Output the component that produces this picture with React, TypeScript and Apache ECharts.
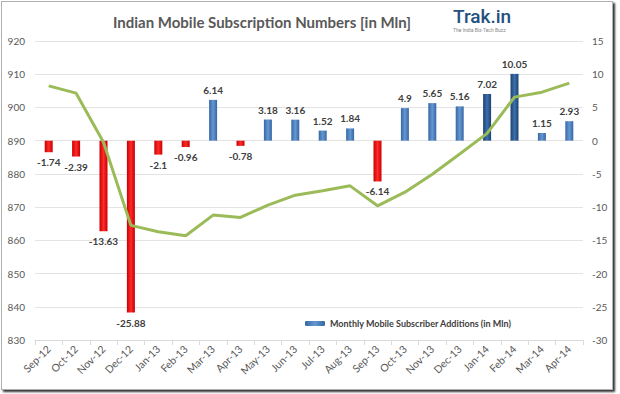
import React, { useEffect, useRef } from "react";
import * as echarts from "echarts";

const months = [
  "Sep-12", "Oct-12", "Nov-12", "Dec-12", "Jan-13", "Feb-13", "Mar-13", "Apr-13",
  "May-13", "Jun-13", "Jul-13", "Aug-13", "Sep-13", "Oct-13", "Nov-13", "Dec-13",
  "Jan-14", "Feb-14", "Mar-14", "Apr-14",
];
const monthlyAdditions = [
  -1.74, -2.39, -13.63, -25.88, -2.1, -0.96, 6.14, -0.78, 3.18, 3.16, 1.52, 1.84,
  -6.14, 4.9, 5.65, 5.16, 7.02, 10.05, 1.15, 2.93,
];
const totalSubscribers = [
  906.5, 904.3, 889.5, 864.5, 862.6, 861.4, 867.6, 866.9, 870.6, 873.6, 874.9, 876.4,
  870.4, 874.5, 879.9, 886.0, 892.2, 903.1, 904.6, 907.3,
];
const darkMonths = ["Jan-14", "Feb-14"];
const seriesName = "Monthly Mobile Subscriber Additions (in Mln)";
const chartTitle = "Indian Mobile Subscription Numbers [in Mln]";

const grad = (edge: string, mid: string) =>
  new echarts.graphic.LinearGradient(0, 0, 1, 0, [
    { offset: 0, color: edge },
    { offset: 0.5, color: mid },
    { offset: 1, color: edge },
  ]);

export default function App() {
  const ref = useRef<HTMLDivElement>(null);
  useEffect(() => {
    document.body.style.margin = "0";
    if (!ref.current) return;
    const chart = echarts.init(ref.current, null, { renderer: "svg" });
    const font = "Lato, 'Open Sans', sans-serif";
    const barData = monthlyAdditions.map((v, i) => ({
      value: v,
      itemStyle: {
        color:
          v < 0
            ? grad("#c80000", "#ff2a2a")
            : darkMonths.includes(months[i])
            ? grad("#1d426f", "#3b6fae")
            : grad("#3667a3", "#6597d3"),
      },
    }));
    chart.setOption({
      animation: false,
      textStyle: { fontFamily: font },
      title: {
        text: chartTitle,
        left: 257,
        top: 9,
        textAlign: "center",
        textStyle: { fontSize: 15, fontWeight: "bold", color: "#595959", fontFamily: font },
      },
      graphic: [
        {
          type: "text",
          left: 453,
          top: 7,
          style: { text: "Trak.in", fontSize: 19, fontWeight: 500, fill: "#24507f", fontFamily: "Roboto, sans-serif" },
        },
        {
          type: "text",
          left: 453,
          top: 27,
          style: { text: "The India Biz-Tech Buzz", fontSize: 5, fill: "#888", fontFamily: "Roboto, sans-serif" },
        },
      ],
      legend: {
        data: [seriesName],
        left: 300,
        top: 314,
        itemWidth: 20,
        itemHeight: 5,
        itemGap: 4,
        textStyle: { fontSize: 9, fontWeight: "bold", color: "#404040", fontFamily: font },
      },
      grid: { left: 35, right: 37, top: 41, bottom: 54 },
      xAxis: {
        type: "category",
        data: months,
        boundaryGap: true,
        axisLine: { show: true, onZero: false, lineStyle: { color: "#d9d9d9" } },
        axisTick: { show: true, length: 5, lineStyle: { color: "#d9d9d9" } },
        axisLabel: { rotate: 45, fontSize: 10.5, color: "#595959", margin: 7, interval: 0, fontFamily: font },
      },
      yAxis: [
        {
          type: "value",
          min: 830,
          max: 920,
          interval: 10,
          axisLine: { show: false },
          axisTick: { show: false },
          axisLabel: { fontSize: 10, color: "#595959", margin: 10, fontFamily: font },
          splitLine: { lineStyle: { color: "#e3e3e3" } },
        },
        {
          type: "value",
          min: -30,
          max: 15,
          interval: 5,
          position: "right",
          axisLine: { show: false },
          axisTick: { show: false },
          axisLabel: { fontSize: 10, color: "#595959", margin: 9, fontFamily: font },
          splitLine: { show: false },
        },
      ],
      series: [
        {
          name: seriesName,
          type: "bar",
          yAxisIndex: 1,
          barWidth: 8,
          data: barData,
          itemStyle: { color: grad("#3667a3", "#6597d3") },
          label: {
            show: true,
            position: "outside",
            distance: 5,
            fontSize: 10,
            fontWeight: "bold",
            color: "#404040",
            fontFamily: font,
          },
        },
        {
          name: "Total Subscribers",
          type: "line",
          yAxisIndex: 0,
          data: totalSubscribers,
          symbol: "none",
          lineStyle: { color: "#9bbb59", width: 3 },
          z: 3,
        },
      ],
    });
    return () => chart.dispose();
  }, []);
  return (
    <div style={{ position: "relative", width: 620, height: 394, background: "#fff" }}>
      <div
        style={{
          position: "absolute",
          left: 1,
          top: 1,
          width: 610,
          height: 387,
          border: "1px solid #b0b0b0",
          boxShadow: "2px 2px 2px #333",
          background: "#fff",
        }}
      />
      <div ref={ref} style={{ position: "absolute", left: 0, top: 0, width: 620, height: 394 }} />
    </div>
  );
}
